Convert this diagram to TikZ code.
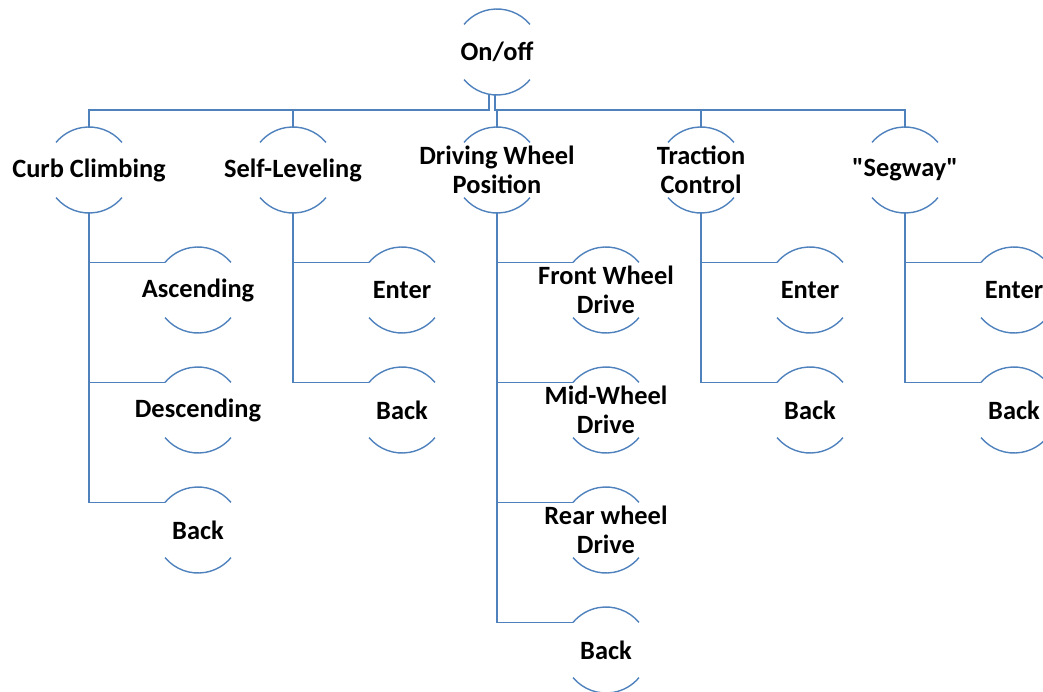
\documentclass[tikz,border=0pt]{standalone}
\usepackage{fontspec}
\setmainfont{Carlito}
\usetikzlibrary{positioning}
\definecolor{rimblue}{HTML}{4F81BD}
\tikzset{
  bubble/.style={circle,minimum size=86pt,inner sep=0pt,outer sep=0pt},
  rim/.style={draw=rimblue,line width=1.4pt},
  link/.style={draw=rimblue,line width=1.4pt},
  lbl/.style={font=\fontsize{26.4}{28.5}\selectfont\bfseries,align=center,
    text=black,inner sep=0pt}
}
\newcommand{\menuitem}[3]{\node[bubble,label={[lbl]center:{#3}}] (#1) at #2 {};}

\begin{document}
\begin{tikzpicture}[x=1pt,y=1pt]
 \useasboundingbox (0,0) rectangle (1043,-692);
 \clip (0,0) rectangle (1043,-692);
 % top level
 \menuitem{root}{(497,-52)}{On/off}
 \menuitem{curb}{(89,-170)}{Curb Climbing}
 \menuitem{self}{(293,-170)}{Self-Leveling}
 \menuitem{dwp}{(497,-170)}{Driving Wheel\\Position}
 \menuitem{trac}{(701,-170)}{Traction\\Control}
 \menuitem{seg}{(905,-170)}{\textquotedbl Segway\textquotedbl}
 % sub menus
 \menuitem{curbasc}{(198,-290)}{Ascending}
 \menuitem{curbdesc}{(198,-410)}{Descending}
 \menuitem{curbback}{(198,-530)}{Back}
 \menuitem{selfent}{(402,-290)}{Enter}
 \menuitem{selfback}{(402,-410)}{Back}
 \menuitem{dwpfront}{(606,-290)}{Front Wheel\\Drive}
 \menuitem{dwpmid}{(606,-410)}{Mid-Wheel\\Drive}
 \menuitem{dwprear}{(606,-530)}{Rear wheel\\Drive}
 \menuitem{dwpback}{(606,-650)}{Back}
 \menuitem{tracent}{(810,-290)}{Enter}
 \menuitem{tracback}{(810,-410)}{Back}
 \menuitem{segent}{(1014,-290)}{Enter}
 \menuitem{segback}{(1014,-410)}{Back}
 % arcs
 \foreach \n in {root,curb,self,dwp,trac,seg,curbasc,curbdesc,curbback,selfent,
   selfback,dwpfront,dwpmid,dwprear,dwpback,tracent,tracback,segent,segback} {
   \draw[rim] (\n.40) arc[start angle=40,end angle=140,radius=43pt];
   \draw[rim] (\n.220) arc[start angle=220,end angle=320,radius=43pt];
 }
 % connectors
 \foreach \c in {curb,self}
   \draw[link] ([xshift=-8pt]root.south) -- ++(0,-15) -| (\c.north);
 \foreach \c in {dwp,trac,seg}
   \draw[link] ([xshift=-2pt]root.south) -- ++(0,-15) -| (\c.north);
 \foreach \p/\c in {curb/curbasc,curb/curbdesc,curb/curbback,self/selfent,
   self/selfback,dwp/dwpfront,dwp/dwpmid,dwp/dwprear,dwp/dwpback,
   trac/tracent,trac/tracback,seg/segent,seg/segback}
   \draw[link] (\p.south) |- (\c.140);
\end{tikzpicture}
\end{document}
